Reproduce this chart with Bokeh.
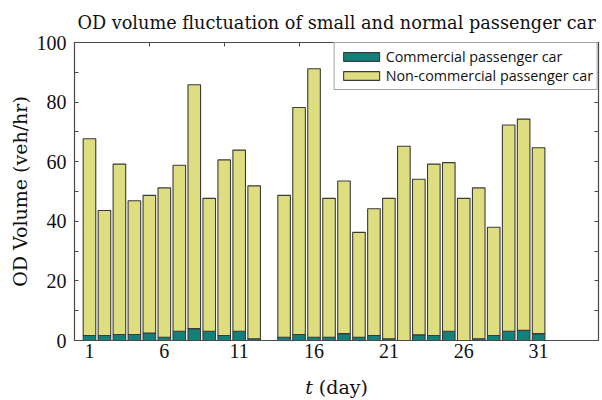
from bokeh.plotting import figure
from bokeh.models import ColumnDataSource, Range1d, LinearAxis, FixedTicker, Legend, LegendItem
from bokeh.embed import file_html
from bokeh.resources import INLINE

days = [1, 2, 3, 4, 5, 6, 7, 8, 9, 10, 11, 12, 14, 15, 16, 17, 18, 19, 20, 21, 22, 23, 24, 25, 26, 27, 28, 29, 30, 31]
commercial = [1.7, 1.7, 2.0, 2.0, 2.5, 1.1, 3.1, 4.0, 3.1, 1.7, 3.1, 0.6, 1.1, 2.0, 1.1, 1.1, 2.3, 1.1, 1.7, 0.6, 0.0, 1.9, 1.7, 3.1, 0.0, 0.6, 1.7, 3.1, 3.4, 2.3]
noncommercial = [66.0, 41.9, 57.2, 44.9, 46.2, 50.1, 55.7, 81.8, 44.6, 58.9, 60.8, 51.3, 47.6, 76.2, 90.1, 46.6, 51.2, 35.2, 42.5, 47.1, 65.2, 52.2, 57.5, 56.6, 47.7, 50.6, 36.3, 69.2, 70.9, 62.4]
x_ticks = [1, 6, 11, 16, 21, 26, 31]
top_ticks = [5, 10, 15, 20, 25, 30]
y_ticks = [0, 20, 40, 60, 80, 100]
y_minor = [10, 30, 50, 70, 90]

TEAL = "#14807a"
YELLOW = "#dede80"
EDGE = "#3a3a3a"
FRAME = "#4a4a4a"
SERIF = "Liberation Serif"
SERIF2 = "DejaVu Serif"

src = ColumnDataSource(dict(day=days, com=commercial, non=noncommercial))

p = figure(width=602, height=400, output_backend="svg", toolbar_location=None,
           x_range=Range1d(0, 35), y_range=Range1d(0, 100),
           min_border_left=74, min_border_right=4, min_border_top=42, min_border_bottom=60)

r = p.vbar_stack(["com", "non"], x="day", width=0.84, source=src,
                 fill_color=[TEAL, YELLOW], line_color=EDGE, line_width=1.1)

p.xgrid.visible = False
p.ygrid.visible = False
p.outline_line_color = FRAME
p.outline_line_width = 1.2

# Title
p.title.text = "OD volume fluctuation of small and normal passenger car"
p.title.align = "center"
p.title.text_font = SERIF2
p.title.text_font_size = "17.7px"
p.title.text_font_style = "normal"
p.title.text_color = "#111111"
p.title.standoff = 20

# Axes
xa = p.xaxis[0]
xa.ticker = FixedTicker(ticks=x_ticks)
xa.major_tick_in = 0
xa.major_tick_out = 0
xa.minor_tick_in = 0
xa.minor_tick_out = 0
xa.major_label_text_font = SERIF
xa.major_label_text_font_size = "20px"
xa.major_label_text_color = "#111111"
xa.major_label_standoff = 3
xa.axis_line_color = FRAME
xa.axis_label = "\U0001D461 (day)"
xa.axis_label_text_font = SERIF2
xa.axis_label_text_font_size = "19px"
xa.axis_label_text_font_style = "normal"
xa.axis_label_text_color = "#111111"
xa.axis_label_standoff = 15

ya = p.yaxis[0]
ya.ticker = FixedTicker(ticks=y_ticks, minor_ticks=y_minor)
ya.major_tick_in = 4
ya.major_tick_out = 0
ya.minor_tick_in = 4
ya.minor_tick_out = 0
ya.major_tick_line_color = FRAME
ya.minor_tick_line_color = FRAME
ya.major_label_text_font = SERIF
ya.major_label_text_font_size = "20px"
ya.major_label_text_color = "#111111"
ya.major_label_standoff = 8
ya.axis_line_color = FRAME
ya.axis_label = "OD Volume (veh/hr)"
ya.axis_label_text_font = SERIF2
ya.axis_label_text_font_size = "19px"
ya.axis_label_text_font_style = "normal"
ya.axis_label_text_color = "#111111"
ya.axis_label_standoff = 3

ta = LinearAxis(ticker=FixedTicker(ticks=top_ticks), major_tick_in=4, major_tick_out=0,
                minor_tick_in=0, minor_tick_out=0, major_label_text_font_size="0px",
                major_label_overrides={t: "" for t in top_ticks},
                major_label_standoff=0, axis_line_color=FRAME, major_tick_line_color=FRAME)
p.add_layout(ta, "above")

ra = LinearAxis(ticker=FixedTicker(ticks=y_ticks, minor_ticks=y_minor),
                major_tick_in=4, major_tick_out=0, minor_tick_in=4, minor_tick_out=0,
                major_label_text_font_size="0px", major_label_standoff=0,
                major_label_overrides={t: "" for t in y_ticks},
                axis_line_color=FRAME, major_tick_line_color=FRAME, minor_tick_line_color=FRAME)
p.add_layout(ra, "right")

legend = Legend(items=[LegendItem(label="Commercial passenger car", renderers=[r[0]]),
                       LegendItem(label="Non-commercial passenger car", renderers=[r[1]])],
                location="top_right", margin=0, padding=4, spacing=-9,
                glyph_width=45, glyph_height=11, label_height=11, label_standoff=2,
                label_text_font="Open Sans", label_text_font_size="14.3px", label_text_color="#111111",
                border_line_color="#444444", border_line_width=1, background_fill_alpha=1)
p.add_layout(legend)

open("out.html", "w").write(file_html(p, INLINE))
